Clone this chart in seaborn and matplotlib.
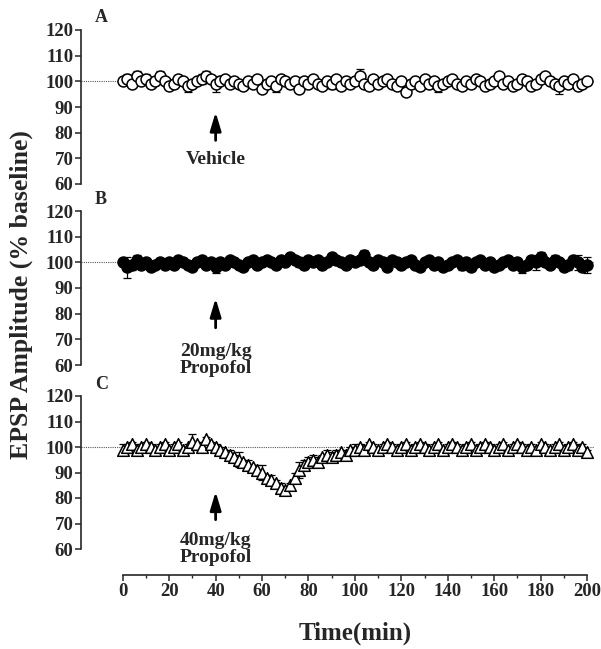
import numpy as np
import pandas as pd
import matplotlib
matplotlib.use("Agg")
import matplotlib.pyplot as plt
import seaborn as sns

# ---------------- data ----------------
time_min = list(range(0, 201, 2))

vehicle_mean = [100, 101, 99, 102, 100, 101, 99, 100, 102, 100, 98,
                99, 101, 100, 98, 99, 100, 101, 102, 101, 99,
                100, 101, 99, 100, 99, 98, 100, 99, 101, 97,
                99, 100, 98, 101, 100, 99, 100, 97, 100, 99,
                101, 99, 98, 100, 99, 101, 98, 100, 99, 100,
                102, 99, 98, 101, 99, 100, 101, 99, 98, 100,
                96, 99, 100, 98, 101, 99, 100, 98, 99, 100,
                101, 99, 98, 100, 99, 101, 100, 98, 99, 100,
                102, 99, 100, 98, 99, 101, 100, 98, 99, 101,
                102, 100, 99, 98, 100, 99, 101, 98, 99, 100]
vehicle_sem = [1, 2, 1, 2, 1, 2, 1, 1, 2, 1, 1,
               1, 1, 1, 2, 1, 1, 2, 2, 1, 3,
               1, 1, 1, 1, 1, 1, 1, 1, 1, 1,
               1, 1, 2, 1, 1, 1, 1, 1, 1, 1,
               1, 1, 1, 1, 2, 1, 1, 1, 1, 1,
               3, 1, 1, 1, 1, 1, 1, 1, 1, 1,
               1, 1, 1, 1, 1, 1, 1, 2, 1, 1,
               1, 1, 1, 1, 1, 1, 1, 1, 1, 1,
               1, 1, 1, 1, 1, 1, 1, 1, 1, 1,
               1, 1, 1, 3, 1, 1, 1, 1, 1, 1]

p20_mean = [100, 98, 99, 101, 99, 100, 98, 99, 100, 99, 100,
            99, 101, 100, 99, 98, 100, 101, 99, 100, 98,
            100, 99, 101, 100, 99, 98, 100, 101, 99, 100,
            101, 100, 99, 101, 100, 102, 101, 100, 99, 101,
            100, 101, 99, 100, 102, 101, 100, 99, 101, 100,
            101, 103, 100, 99, 101, 100, 98, 101, 100, 99,
            100, 101, 99, 98, 100, 101, 99, 100, 98, 99,
            100, 101, 99, 100, 98, 100, 101, 99, 100, 98,
            99, 100, 101, 99, 100, 98, 99, 101, 100, 102,
            100, 99, 101, 100, 98, 99, 101, 100, 98, 99]
p20_sem = [1, 4, 2, 2, 1, 1, 1, 1, 1, 1, 1,
           1, 1, 1, 1, 1, 1, 1, 1, 1, 2,
           1, 1, 1, 1, 1, 1, 1, 1, 1, 1,
           1, 1, 1, 1, 1, 1, 1, 2, 1, 1,
           1, 1, 1, 1, 1, 1, 1, 1, 1, 1,
           1, 2, 1, 1, 1, 1, 1, 1, 1, 1,
           1, 1, 1, 1, 1, 1, 1, 1, 1, 1,
           1, 1, 2, 1, 1, 1, 1, 1, 1, 1,
           1, 1, 1, 1, 1, 2, 1, 1, 3, 2,
           1, 1, 2, 1, 1, 2, 1, 3, 1, 3]

p40_mean = [99, 100, 101, 99, 100, 101, 100, 99, 100, 101, 99,
            100, 101, 99, 100, 102, 101, 100, 103, 101, 100,
            99, 98, 97, 96, 95, 94, 93, 92, 91, 90,
            88, 87, 86, 84, 83, 85, 88, 91, 93, 94,
            95, 94, 96, 97, 96, 97, 98, 97, 99, 99,
            100, 99, 101, 100, 99, 100, 101, 100, 99, 100,
            101, 99, 100, 101, 100, 99, 100, 101, 99, 100,
            101, 100, 99, 100, 101, 99, 100, 101, 100, 99,
            100, 101, 99, 100, 101, 100, 99, 100, 99, 101,
            100, 99, 100, 101, 99, 100, 101, 99, 100, 98]
p40_sem = [2, 1, 1, 2, 1, 1, 1, 1, 1, 1, 1,
           1, 1, 1, 1, 3, 1, 1, 1, 1, 1,
           1, 1, 2, 1, 3, 1, 2, 1, 2, 3,
           1, 2, 1, 2, 1, 1, 2, 3, 2, 2,
           2, 2, 1, 2, 2, 2, 1, 2, 1, 2,
           1, 1, 1, 1, 1, 1, 1, 1, 1, 1,
           1, 1, 1, 1, 1, 1, 1, 1, 1, 1,
           1, 1, 1, 1, 1, 1, 1, 1, 1, 1,
           1, 1, 1, 1, 1, 1, 1, 1, 1, 1,
           1, 1, 1, 1, 1, 1, 1, 2, 1, 1]

panel_letters = ["A", "B", "C"]
arrow_labels = ["Vehicle", "20mg/kg\nPropofol", "40mg/kg\nPropofol"]
y_ticks = [60, 70, 80, 90, 100, 110, 120]
x_ticks = list(range(0, 201, 20))

# ---------------- figure ----------------
sns.set_style("ticks")
plt.rcParams["font.family"] = ["Liberation Serif", "DejaVu Serif"]
plt.rcParams["font.weight"] = "bold"

fig = plt.figure(figsize=(6.01, 6.49), dpi=100)
W, H = 601, 649
left_px, right_px = 81, 594
panels_px = [(30, 184), (211, 365), (396, 549)]

series = [
    (vehicle_mean, vehicle_sem, "o", "white"),
    (p20_mean, p20_sem, "o", "black"),
    (p40_mean, p40_sem, "^", "white"),
]
arrow_specs = [((77, 88), 69.5), ((74.5, 86), 62.0), ((71.5, 82.5), 60.0)]

for i, ((top, bot), (m, s, mk, fc)) in enumerate(zip(panels_px, series)):
    ax = fig.add_axes([left_px / W, 1 - bot / H, (right_px - left_px) / W, (bot - top) / H])
    df = pd.DataFrame({"time": time_min, "amp": m, "sem": s})
    ax.axhline(100, ls=(0, (1, 1)), lw=0.8, color="0.35", zorder=1)
    ax.errorbar(df["time"], df["amp"], yerr=df["sem"], fmt="none", ecolor="black",
                elinewidth=0.9, capsize=2.7, capthick=0.9, zorder=2)
    sns.scatterplot(data=df, x="time", y="amp", marker=mk, s=62 if mk == "o" else 70,
                    facecolor=fc, edgecolor="black", linewidth=1.1, ax=ax, zorder=3,
                    legend=False)
    ax.set_xlim(-18, 203)
    ax.set_ylim(60, 120)
    ax.set_yticks(y_ticks)
    ax.set_xlabel("")
    ax.set_ylabel("")
    for sp in ["top", "right"]:
        ax.spines[sp].set_visible(False)
    ax.spines["left"].set_linewidth(1.2)
    ax.spines["left"].set_bounds(60, 120)
    ax.tick_params(axis="y", direction="out", length=4, width=1.1, labelsize=13.5, pad=1.5)
    for lab in ax.get_yticklabels():
        lab.set_fontweight("bold")
    if i < 2:
        ax.spines["bottom"].set_visible(False)
        ax.set_xticks([])
    else:
        ax.spines["bottom"].set_position(("outward", 18.5))
        ax.spines["bottom"].set_bounds(0, 200)
        ax.spines["bottom"].set_linewidth(1.2)
        ax.set_xticks(x_ticks)
        ax.set_xticks(list(range(10, 200, 20)), minor=True)
        ax.tick_params(axis="x", which="major", direction="out", length=4, width=1.1,
                       labelsize=13.5, pad=2)
        ax.tick_params(axis="x", which="minor", direction="out", length=2.5, width=1.0)
        for lab in ax.get_xticklabels():
            lab.set_fontweight("bold")
    ax.patch.set_alpha(0)

    # panel letter
    ax.text(95 / W, 1 - (top - 12) / H, panel_letters[i], transform=fig.transFigure,
            fontsize=13, fontweight="bold", ha="left", va="center")
    # arrow and label
    (y0, y1), ty = arrow_specs[i]
    ax.annotate("", xy=(40, y1), xytext=(40, y0),
                arrowprops=dict(arrowstyle="-|>,head_length=1.1,head_width=0.33",
                                lw=2.0, color="black", shrinkA=0, shrinkB=0))
    ax.text(40, ty, arrow_labels[i], ha="center", va="center", fontsize=14,
            fontweight="bold", linespacing=0.95)

fig.text(21 / W, 1 - 295 / H, "EPSP Amplitude (% baseline)", rotation=90,
         ha="center", va="center", fontsize=18.5, fontweight="bold")
fig.text(355 / W, 1 - 633 / H, "Time(min)", ha="center", va="center",
         fontsize=18, fontweight="bold")

fig.savefig("out.png", dpi=100)
